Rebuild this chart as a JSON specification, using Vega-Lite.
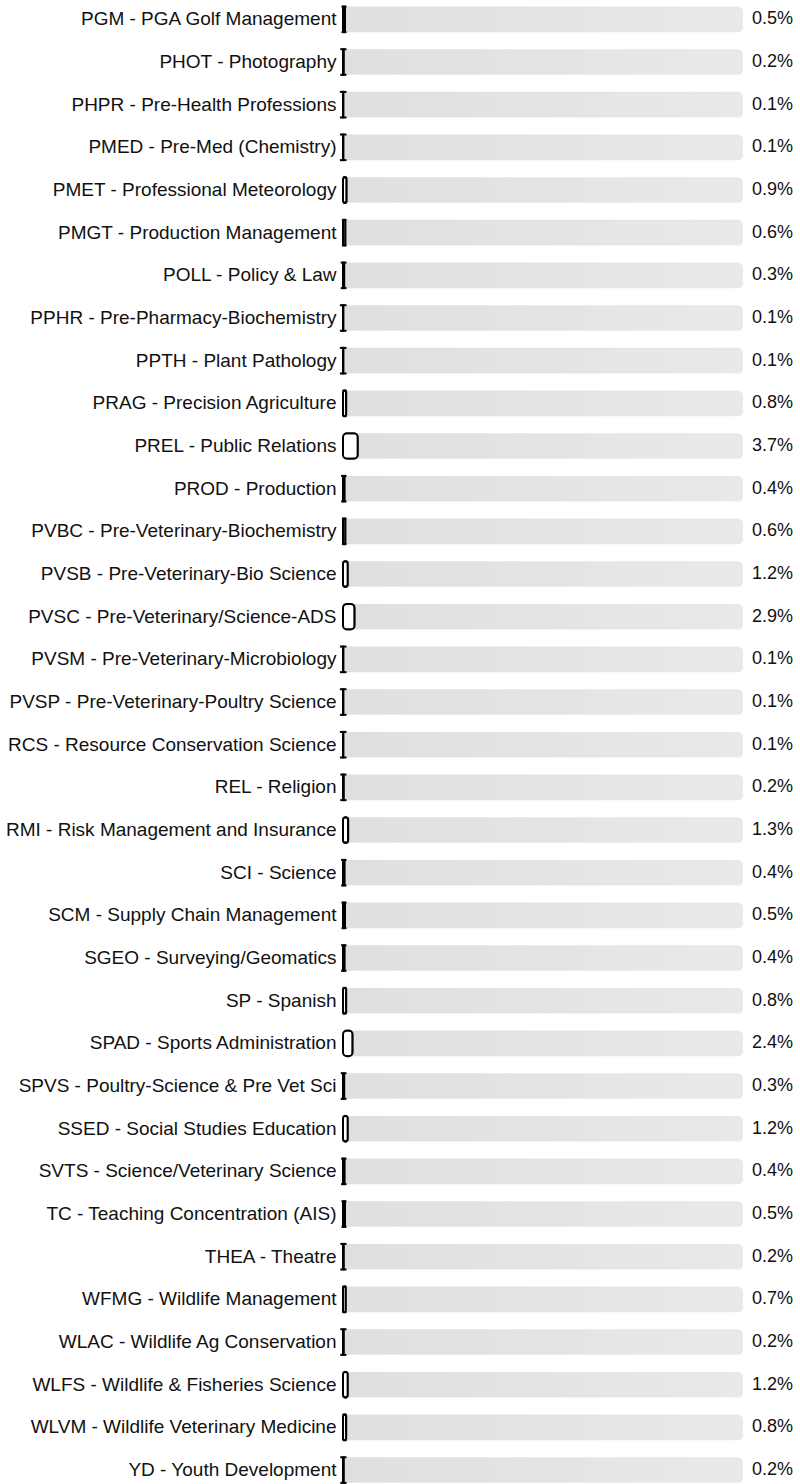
{
  "$schema": "https://vega.github.io/schema/vega-lite/v6.json",
  "autosize": "none",
  "width": 400,
  "height": 1484,
  "padding": {"left": 343, "right": 57, "top": 0, "bottom": 0},
  "background": "white",
  "config": {"view": {"stroke": null}, "font": "Liberation Sans"},
  "data": {"values": [
    {"major": "PGM - PGA Golf Management", "pct": 0.5},
    {"major": "PHOT - Photography", "pct": 0.2},
    {"major": "PHPR - Pre-Health Professions", "pct": 0.1},
    {"major": "PMED - Pre-Med (Chemistry)", "pct": 0.1},
    {"major": "PMET - Professional Meteorology", "pct": 0.9},
    {"major": "PMGT - Production Management", "pct": 0.6},
    {"major": "POLL - Policy & Law", "pct": 0.3},
    {"major": "PPHR - Pre-Pharmacy-Biochemistry", "pct": 0.1},
    {"major": "PPTH - Plant Pathology", "pct": 0.1},
    {"major": "PRAG - Precision Agriculture", "pct": 0.8},
    {"major": "PREL - Public Relations", "pct": 3.7},
    {"major": "PROD - Production", "pct": 0.4},
    {"major": "PVBC - Pre-Veterinary-Biochemistry", "pct": 0.6},
    {"major": "PVSB - Pre-Veterinary-Bio Science", "pct": 1.2},
    {"major": "PVSC - Pre-Veterinary/Science-ADS", "pct": 2.9},
    {"major": "PVSM - Pre-Veterinary-Microbiology", "pct": 0.1},
    {"major": "PVSP - Pre-Veterinary-Poultry Science", "pct": 0.1},
    {"major": "RCS - Resource Conservation Science", "pct": 0.1},
    {"major": "REL - Religion", "pct": 0.2},
    {"major": "RMI - Risk Management and Insurance", "pct": 1.3},
    {"major": "SCI - Science", "pct": 0.4},
    {"major": "SCM - Supply Chain Management", "pct": 0.5},
    {"major": "SGEO - Surveying/Geomatics", "pct": 0.4},
    {"major": "SP - Spanish", "pct": 0.8},
    {"major": "SPAD - Sports Administration", "pct": 2.4},
    {"major": "SPVS - Poultry-Science & Pre Vet Sci", "pct": 0.3},
    {"major": "SSED - Social Studies Education", "pct": 1.2},
    {"major": "SVTS - Science/Veterinary Science", "pct": 0.4},
    {"major": "TC - Teaching Concentration (AIS)", "pct": 0.5},
    {"major": "THEA - Theatre", "pct": 0.2},
    {"major": "WFMG - Wildlife Management", "pct": 0.7},
    {"major": "WLAC - Wildlife Ag Conservation", "pct": 0.2},
    {"major": "WLFS - Wildlife & Fisheries Science", "pct": 1.2},
    {"major": "WLVM - Wildlife Veterinary Medicine", "pct": 0.8},
    {"major": "YD - Youth Development", "pct": 0.2}
  ]},
  "encoding": {
    "y": {
      "field": "major", "type": "nominal", "sort": null,
      "scale": {"paddingInner": 0.4, "paddingOuter": 0.09, "align": 0.85, "round": false},
      "axis": {"title": null, "ticks": false, "tickSize": 0, "domain": false, "labelPadding": 7, "labelFontSize": 19, "labelColor": "#111", "labelFont": "Liberation Sans", "labelLimit": 400}
    }
  },
  "layer": [
    {
      "mark": {"type": "bar", "cornerRadius": 5, "color": {"gradient": "linear", "x1": 0, "y1": 0, "x2": 1, "y2": 0, "stops": [{"offset": 0, "color": "#dfdfdf"}, {"offset": 1, "color": "#e9e9e9"}]}},
      "encoding": {
        "x": {"datum": 100, "type": "quantitative", "scale": {"domain": [0, 100], "nice": false}, "axis": null}
      }
    },
    {
      "mark": {"type": "bar", "cornerRadius": 4, "fill": "white", "stroke": "black", "strokeWidth": 2},
      "encoding": {
        "x": {"field": "pct", "type": "quantitative"}
      }
    },
    {
      "transform": [{"filter": "datum.pct < 1.75"}],
      "mark": {"type": "rule", "color": "black", "strokeWidth": 2, "xOffset": -3.5, "x2Offset": 3.5},
      "encoding": {
        "x": {"field": "pct", "type": "quantitative"},
        "x2": {"datum": 0},
        "y": {"field": "major", "type": "nominal", "sort": null, "bandPosition": 0}
      }
    },
    {
      "transform": [{"filter": "datum.pct < 1.75"}],
      "mark": {"type": "rule", "color": "black", "strokeWidth": 2, "xOffset": -3.5, "x2Offset": 3.5},
      "encoding": {
        "x": {"field": "pct", "type": "quantitative"},
        "x2": {"datum": 0},
        "y": {"field": "major", "type": "nominal", "sort": null, "bandPosition": 1}
      }
    },
    {
      "mark": {"type": "text", "align": "left", "baseline": "middle", "dx": 9, "fontSize": 18, "color": "#111", "text": {"expr": "format(datum.pct, '.1f') + '%'"}},
      "encoding": {
        "x": {"datum": 100, "type": "quantitative"}
      }
    }
  ]
}
